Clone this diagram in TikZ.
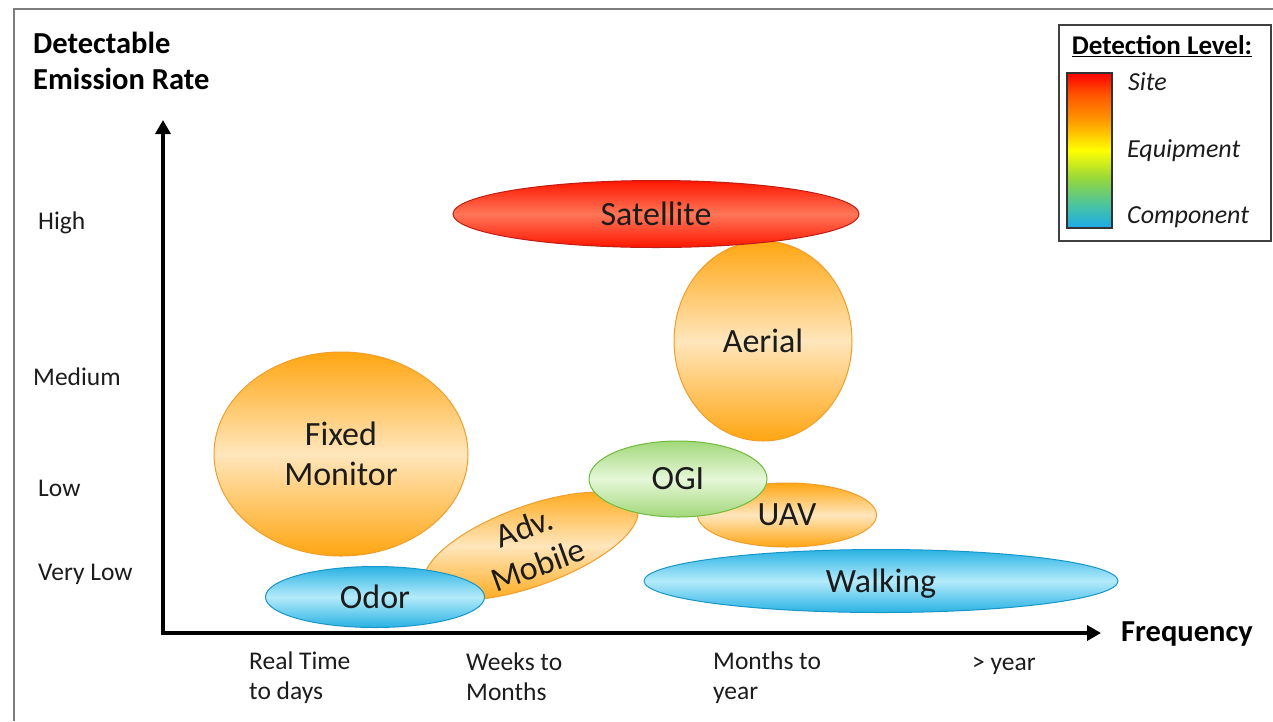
\documentclass[tikz,border=0pt]{standalone}
\usepackage{fontspec}
\setmainfont{Carlito}
\usetikzlibrary{shapes.geometric,arrows.meta}

\definecolor{inkgray}{RGB}{28,28,28}
\definecolor{framegray}{RGB}{125,125,125}
\definecolor{orgdeep}{RGB}{255,166,18}
\definecolor{orgpale}{RGB}{255,230,188}
\definecolor{orgline}{RGB}{240,158,45}
\definecolor{reddeep}{RGB}{255,22,0}
\definecolor{redpale}{RGB}{255,118,88}
\definecolor{redline}{RGB}{190,30,20}
\definecolor{grndeep}{RGB}{162,216,122}
\definecolor{grnpale}{RGB}{230,247,216}
\definecolor{grnline}{RGB}{112,186,62}
\definecolor{bludeep}{RGB}{42,178,228}
\definecolor{blupale}{RGB}{180,235,251}
\definecolor{bluline}{RGB}{25,150,200}
\definecolor{lvblue}{RGB}{28,170,235}
\definecolor{lvteal}{RGB}{70,195,165}
\definecolor{lvgreen}{RGB}{150,215,60}
\definecolor{lvorange}{RGB}{255,150,0}
\definecolor{lvdeep}{RGB}{255,85,0}

\pgfdeclareverticalshading{levelbar}{100bp}{color(0bp)=(lvblue); color(25bp)=(lvblue);
  color(32bp)=(lvteal); color(41bp)=(lvgreen); color(50bp)=(yellow);
  color(60bp)=(lvorange); color(68bp)=(lvdeep); color(75bp)=(red); color(100bp)=(red)}

\newcommand{\blobfont}{\fontsize{34}{40}\selectfont}
\newcommand{\tickfont}{\fontsize{25.5}{30}\selectfont}
\newcommand{\keyfont}{\fontsize{26}{30}\selectfont\itshape}

\tikzset{
  blob/.style={ellipse, inner sep=0pt, line width=1pt, text=inkgray, font=\blobfont, align=center},
  orangeblob/.style={blob, draw=orgline, top color=orgdeep, bottom color=orgdeep, middle color=orgpale},
  redblob/.style={blob, draw=redline, top color=reddeep, bottom color=reddeep, middle color=redpale},
  greenblob/.style={blob, draw=grnline, top color=grndeep, bottom color=grndeep, middle color=grnpale},
  blueblob/.style={blob, draw=bluline, top color=bludeep, bottom color=bludeep, middle color=blupale},
  ticklabel/.style={anchor=west, inner sep=0pt, text=inkgray, font=\tickfont, align=left},
  axistitle/.style={anchor=west, inner sep=0pt, text=black, font=\fontsize{30.5}{36}\selectfont\bfseries, align=left},
  axisline/.style={line width=3.5pt, {Triangle[length=14pt,width=15pt]}-{Triangle[length=14pt,width=15pt]}},
  keytext/.style={anchor=base west, inner sep=0pt, text=inkgray, font=\keyfont}
}

\begin{document}
\begin{tikzpicture}[x=1pt, y=-1pt]
  \useasboundingbox (0,0) rectangle (1273,721);
  \draw[framegray, line width=2pt] (14,721) -- (14,9) -- (1273,9);

  \coordinate (origin) at (163,633);
  \coordinate (ytip) at (163,120);
  \coordinate (xtip) at (1101,633);
  \draw[axisline] (ytip) -- (origin) -- (xtip);

  \node[axistitle] (ytitle) at (33,61) {Detectable\\Emission Rate};
  \node[axistitle] (xtitle) at (1121,634) {Frequency};

  \node[ticklabel] (high) at (38,223) {High};
  \node[ticklabel] (medium) at (33,377) {Medium};
  \node[ticklabel] (low) at (38,488) {Low};
  \node[ticklabel] (verylow) at (38,574) {Very Low};

  \node[ticklabel] (realtime) at (249,678) {Real Time\\to days};
  \node[ticklabel] (weeks) at (466,677) {Weeks to\\Months};
  \node[ticklabel] (months) at (713,678) {Months to\\year};
  \node[ticklabel] (year) at (972,666) {> year};

  \node[orangeblob, minimum width=254, minimum height=204] (fixed) at (341,454) {Fixed\\Monitor};
  \node[orangeblob, minimum width=178, minimum height=200] (aerial) at (763,341) {Aerial};
  \node[redblob, minimum width=406, minimum height=67] (satellite) at (656,214) {Satellite};
  \node[orangeblob, minimum width=179, minimum height=64] (uav) at (787,515) {UAV};
  \node[orangeblob, minimum width=226, minimum height=80, rotate=20] (mobile) at (531,546) {};
  \node[blob, rotate=20] (mobiletext) at (mobile.center) {Adv.\\Mobile};
  \node[greenblob, minimum width=178, minimum height=76] (ogi) at (678,479) {OGI};
  \node[blueblob, minimum width=474, minimum height=63, text depth=0pt] (walking) at (881,581) {Walking};
  \node[blueblob, minimum width=219, minimum height=61] (odor) at (375,597) {Odor};

  % detection level key
  \node[draw=black!75, line width=1.5pt, minimum width=212, minimum height=216] (key) at (1165,133) {};
  \node[inner sep=0pt, text=black, font=\fontsize{27}{32}\selectfont\bfseries] (keytitle) at (1162,46) {\underline{Detection Level:}};
  \node[draw=black!80, line width=1.2pt, shading=levelbar, minimum width=45, minimum height=155] (bar) at (1089.5,150.5) {};
  \node[keytext] (site) at (1128,90) {Site};
  \node[keytext] (equipment) at (1127,157) {Equipment};
  \node[keytext] (component) at (1127,223) {Component};
\end{tikzpicture}
\end{document}
